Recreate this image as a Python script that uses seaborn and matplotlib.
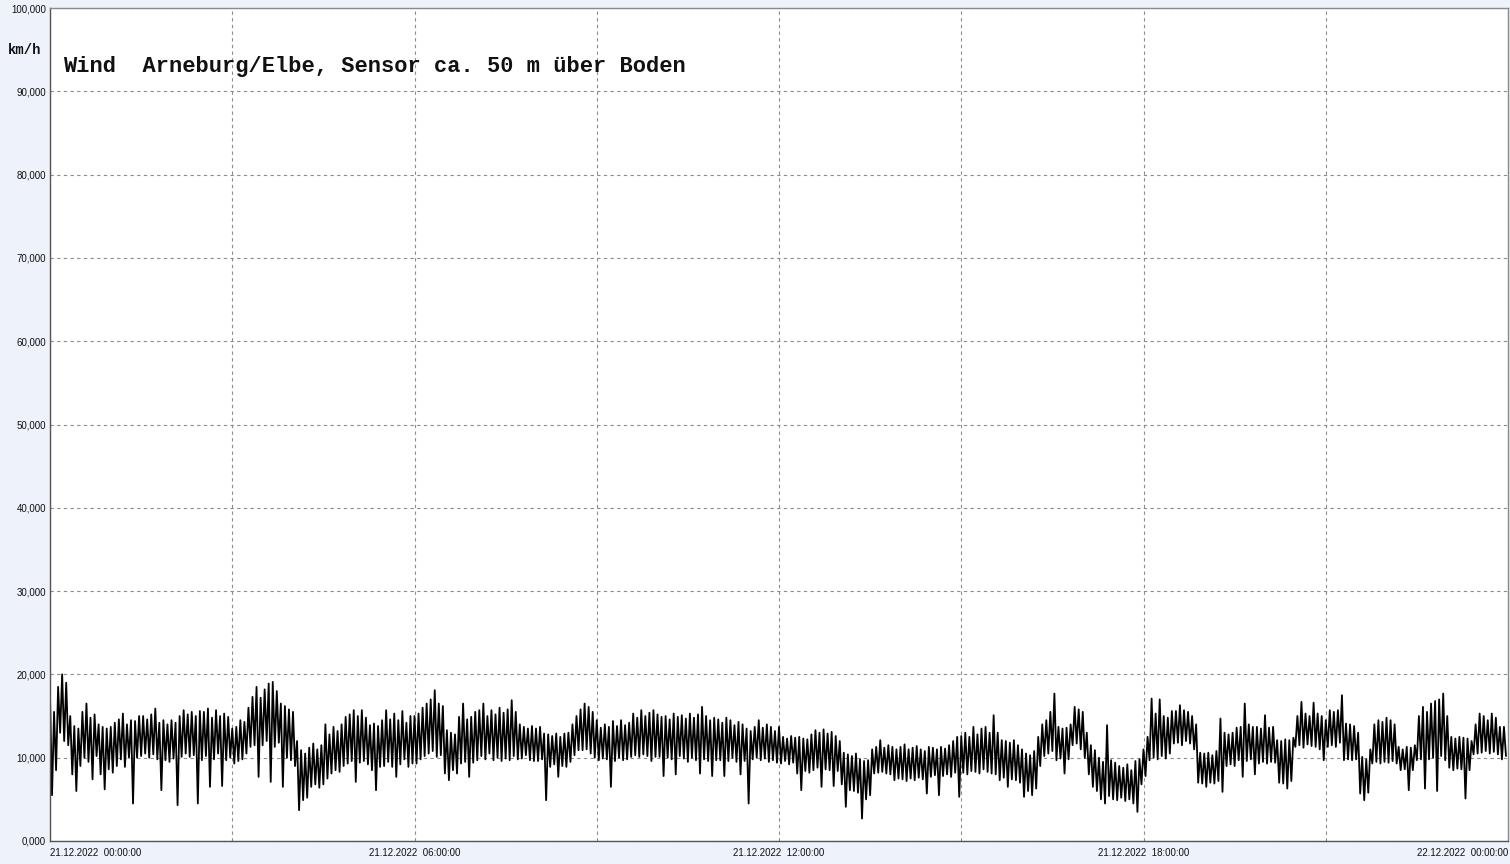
import pandas as pd
import seaborn as sns
import matplotlib.pyplot as plt
import matplotlib.dates as mdates
from matplotlib.ticker import MultipleLocator, FuncFormatter

wind = [
    17.5, 5.5, 15.5, 8.5, 18.5, 13.0, 20.0, 12.0, 19.0, 11.5, 15.0, 8.0, 13.8, 6.0, 13.5,
    9.0, 15.5, 10.0, 16.5, 9.5, 14.8, 7.4, 15.2, 10.2, 14.0, 8.0, 13.7, 6.2, 13.5, 8.6,
    13.7, 8.2, 14.2, 9.0, 14.6, 9.8, 15.3, 8.9, 14.0, 10.0, 14.5, 4.5, 14.4, 10.0, 15.0,
    10.2, 15.0, 10.5, 14.6, 10.0, 15.2, 10.4, 15.9, 9.8, 14.2, 6.1, 14.5, 9.7, 14.0, 9.5,
    14.5, 9.9, 14.2, 4.3, 15.0, 10.1, 15.7, 10.5, 15.2, 10.1, 15.5, 10.3, 15.0, 4.5, 15.6,
    9.7, 15.5, 10.2, 15.9, 6.5, 14.8, 9.8, 15.7, 10.5, 15.0, 6.6, 15.3, 9.7, 14.9, 10.0,
    13.5, 9.3, 13.7, 9.6, 14.5, 9.8, 14.3, 10.5, 16.0, 11.3, 17.3, 11.5, 18.5, 7.7, 17.2,
    11.5, 18.2, 12.0, 18.9, 7.1, 19.1, 11.3, 18.0, 11.8, 16.5, 6.5, 16.2, 10.0, 15.8, 9.7,
    15.5, 9.0, 12.0, 3.7, 10.9, 4.9, 10.5, 5.2, 11.2, 6.5, 11.7, 6.8, 11.0, 6.4, 11.5,
    6.8, 14.0, 7.5, 12.8, 8.1, 13.7, 8.5, 13.2, 8.3, 14.0, 9.0, 14.9, 9.3, 15.2, 9.6,
    15.7, 7.1, 15.0, 9.4, 15.7, 9.6, 14.8, 9.2, 13.9, 8.5, 14.1, 6.1, 13.8, 8.9, 14.5,
    9.0, 15.7, 9.5, 14.6, 8.9, 15.3, 7.7, 14.5, 9.2, 15.6, 9.8, 14.2, 8.9, 15.0, 9.3,
    15.0, 9.3, 15.3, 9.8, 16.0, 10.2, 16.5, 10.5, 17.0, 10.8, 18.1, 10.1, 16.5, 10.3, 16.2,
    8.1, 13.3, 7.3, 13.0, 8.5, 12.8, 8.1, 14.9, 9.3, 16.5, 9.5, 14.6, 7.7, 14.9, 9.4,
    15.5, 9.7, 15.7, 10.2, 16.5, 9.8, 15.0, 10.5, 15.7, 9.7, 15.2, 10.0, 16.0, 9.6, 15.4,
    9.9, 15.8, 9.7, 16.9, 10.2, 15.5, 9.8, 14.0, 9.9, 13.7, 10.3, 13.5, 9.7, 13.8, 9.6,
    13.5, 9.6, 13.7, 9.8, 12.9, 4.9, 12.8, 8.9, 12.6, 9.2, 12.9, 7.7, 12.5, 9.0, 12.9,
    8.9, 13.0, 9.5, 14.0, 10.3, 15.0, 10.9, 15.8, 10.9, 16.5, 11.0, 16.1, 10.5, 15.5, 10.0,
    14.5, 9.7, 13.6, 9.9, 14.0, 9.8, 13.7, 6.5, 14.4, 9.6, 13.8, 10.0, 14.5, 9.7, 13.9,
    9.8, 14.2, 10.1, 15.3, 10.3, 14.8, 10.1, 15.7, 10.4, 15.0, 10.2, 15.4, 9.6, 15.7, 10.1,
    15.2, 10.1, 14.9, 7.8, 15.0, 10.0, 14.6, 9.8, 15.3, 8.0, 14.9, 10.2, 15.1, 9.9, 14.7,
    9.5, 15.3, 10.0, 14.8, 9.7, 15.2, 8.1, 16.1, 9.8, 15.0, 9.6, 14.5, 7.8, 14.8, 9.7,
    14.6, 9.7, 14.2, 7.8, 14.8, 9.6, 14.5, 10.0, 13.9, 9.5, 14.3, 8.0, 14.0, 9.6, 13.5,
    4.5, 13.2, 9.8, 13.7, 10.0, 14.5, 9.7, 13.6, 9.9, 14.0, 9.5, 13.7, 9.7, 13.2, 9.4,
    13.7, 9.3, 12.5, 9.6, 12.3, 9.2, 12.6, 9.4, 12.4, 8.1, 12.5, 6.1, 12.3, 8.4, 12.2,
    8.2, 12.8, 8.5, 13.3, 8.8, 13.0, 6.5, 13.4, 8.6, 12.9, 8.5, 13.1, 6.6, 12.6, 8.4,
    12.0, 6.8, 10.6, 4.1, 10.4, 6.1, 10.2, 6.0, 10.5, 5.8, 9.8, 2.7, 9.6, 5.0, 9.7,
    5.5, 11.0, 8.1, 11.3, 8.2, 12.1, 8.3, 11.2, 8.1, 11.5, 8.0, 11.3, 7.3, 11.0, 7.5,
    11.3, 7.4, 11.6, 7.2, 11.0, 7.5, 11.2, 7.3, 11.4, 7.6, 11.0, 7.4, 10.8, 5.7, 11.3,
    7.7, 11.2, 7.9, 11.0, 5.5, 11.3, 7.8, 11.1, 8.0, 11.5, 7.7, 12.0, 8.2, 12.5, 5.3,
    12.6, 8.2, 13.0, 8.0, 12.5, 8.4, 13.7, 8.3, 12.8, 8.1, 13.5, 8.6, 13.7, 8.3, 13.0,
    8.1, 15.1, 8.0, 13.0, 7.3, 12.1, 7.6, 12.0, 6.5, 11.8, 7.4, 12.1, 7.3, 11.5, 7.0,
    11.0, 5.3, 10.5, 6.0, 10.3, 5.5, 10.8, 6.3, 12.5, 9.0, 14.0, 10.2, 14.5, 10.5, 15.5,
    10.8, 17.7, 9.7, 13.7, 9.9, 13.5, 8.1, 13.6, 9.8, 14.0, 11.5, 16.1, 11.7, 15.8, 11.0,
    15.5, 10.0, 13.0, 8.0, 11.5, 6.5, 10.9, 6.0, 10.0, 5.0, 9.5, 4.5, 13.9, 5.4, 9.7,
    5.0, 9.4, 4.9, 9.0, 5.2, 8.8, 4.8, 9.2, 5.0, 8.5, 4.5, 9.6, 3.5, 9.8, 6.8,
    11.0, 7.8, 12.5, 9.7, 17.1, 10.0, 15.3, 9.8, 17.0, 10.2, 15.0, 9.9, 14.8, 10.5, 15.6,
    11.7, 15.6, 11.8, 16.3, 11.5, 15.7, 12.0, 15.5, 11.7, 15.0, 11.0, 14.0, 7.0, 10.6, 6.9,
    10.5, 6.5, 10.6, 7.0, 10.3, 6.9, 10.8, 7.2, 14.7, 5.9, 13.0, 9.0, 12.8, 9.2, 13.0,
    9.0, 13.6, 9.7, 13.7, 7.7, 16.5, 9.6, 14.0, 9.8, 13.7, 8.0, 13.7, 9.3, 13.5, 9.5,
    15.1, 9.3, 13.6, 9.5, 13.7, 9.4, 12.1, 7.0, 12.0, 6.9, 12.2, 6.3, 12.1, 7.2, 12.4,
    11.3, 15.0, 11.5, 16.7, 11.2, 15.3, 11.6, 15.0, 11.4, 16.6, 11.3, 15.3, 11.0, 15.0, 9.7,
    14.5, 11.3, 15.7, 11.5, 15.5, 11.3, 15.7, 11.8, 17.5, 9.7, 14.1, 9.8, 14.0, 9.7, 13.8,
    9.8, 13.0, 5.7, 10.1, 4.9, 9.8, 5.8, 11.0, 9.3, 14.0, 9.5, 14.5, 9.3, 14.3, 9.5,
    14.8, 9.4, 14.5, 9.6, 14.0, 9.3, 11.3, 8.5, 11.0, 8.6, 11.3, 6.1, 11.2, 8.5, 11.5,
    9.7, 15.0, 9.8, 16.1, 6.3, 15.5, 9.8, 16.5, 10.0, 16.8, 6.0, 17.0, 10.2, 17.7, 9.7,
    15.0, 8.8, 12.5, 8.5, 12.3, 8.7, 12.5, 8.6, 12.4, 5.1, 12.3, 8.5, 12.0, 10.4, 14.0,
    10.5, 15.3, 10.6, 15.0, 10.8, 14.5, 10.5, 15.3, 10.7, 14.8, 10.4, 13.7, 9.8, 13.7, 10.2,
]
start = "2022-12-21 00:00"
end = "2022-12-22 00:00"
title = "Wind  Arneburg/Elbe, Sensor ca. 50 m über Boden"
unit = "km/h"

df = pd.DataFrame({
    "Zeit": pd.date_range(start, periods=len(wind), freq="2min"),
    "Wind": wind,
})

sns.set_style("white")
plt.rcParams["font.family"] = ["Liberation Sans", "DejaVu Sans"]

fig = plt.figure(figsize=(15.1, 8.64), dpi=100, facecolor="#eef2fa")
ax = fig.add_axes([50 / 1510, 23 / 864, 1458 / 1510, 833 / 864])
ax.set_facecolor("white")

sns.lineplot(data=df, x="Zeit", y="Wind", color="black", linewidth=1.3, ax=ax)

ax.set_xlim(pd.Timestamp(start), pd.Timestamp(end))
ax.set_ylim(0, 100)

# Achsen / Gitter
ax.xaxis.set_major_locator(MultipleLocator(1 / 8))     # alle 3 h
ax.xaxis.set_minor_locator(MultipleLocator(1 / 32))    # alle 45 min


def xfmt(v, pos):
    d = mdates.num2date(v)
    if d.hour % 6 == 0 and d.minute == 0:
        return d.strftime("%d.%m.%Y  %H:%M:%S")
    return ""


ax.xaxis.set_major_formatter(FuncFormatter(xfmt))
ax.yaxis.set_major_locator(MultipleLocator(10))
ax.yaxis.set_minor_locator(MultipleLocator(2.5))
ax.yaxis.set_major_formatter(FuncFormatter(lambda v, p: f"{v:.3f}".replace(".", ",")))

ax.grid(True, which="major", color="#8c8c8c", linestyle=(0, (3, 3)), linewidth=0.8)
ax.tick_params(axis="x", which="major", length=0, pad=5, labelsize=7, labelcolor="#111111")
ax.tick_params(axis="x", which="minor", direction="in", length=4, color="#777777")
ax.tick_params(axis="y", which="major", direction="in", length=5, pad=3, labelsize=7,
               color="#777777", labelcolor="#111111")
ax.tick_params(axis="y", which="minor", direction="in", length=4, color="#777777")

for s in ax.spines.values():
    s.set_color("#8a8a8a")
    s.set_linewidth(1.0)
ax.spines["left"].set_color("#555555")
ax.spines["bottom"].set_color("#555555")

ax.set_xlabel("")
ax.set_ylabel("")

fig.canvas.draw()
xl = [t for t in ax.get_xticklabels() if t.get_text()]
xl[0].set_ha("left")
xl[-1].set_ha("right")
yl = ax.get_yticklabels()
yl[0].set_va("bottom")
yl[-1].set_va("top")

ax.text(0.009, 0.930, title, transform=ax.transAxes, fontsize=15.8, fontweight="bold",
        family="Liberation Mono", va="center", ha="left", color="#111111")
fig.text(25 / 1510, 1 - 50 / 864, unit, fontsize=10, fontweight="bold",
         family="Liberation Mono", va="center", ha="center", color="#111111")

plt.savefig("out.png", dpi=100, facecolor=fig.get_facecolor())
